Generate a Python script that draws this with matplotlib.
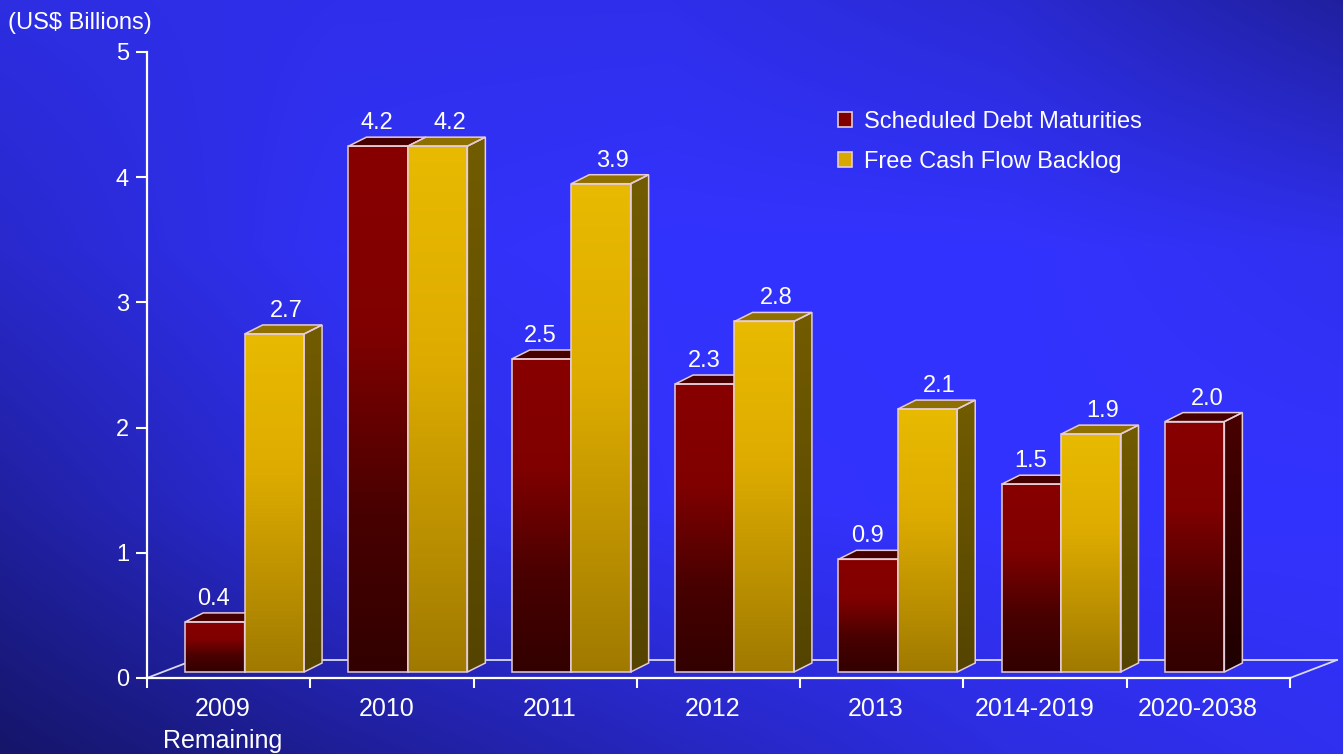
import numpy as np
import matplotlib
matplotlib.use("Agg")
import matplotlib.pyplot as plt
from matplotlib.patches import Polygon, Patch

# ---------------- data ----------------
categories = ["2009\nRemaining", "2010", "2011", "2012", "2013", "2014-2019", "2020-2038"]
debt_maturities = [0.4, 4.2, 2.5, 2.3, 0.9, 1.5, 2.0]
free_cash_flow = [2.7, 4.2, 3.9, 2.8, 2.1, 1.9, None]
series_names = ["Scheduled Debt Maturities", "Free Cash Flow Backlog"]
y_ticks = [0, 1, 2, 3, 4, 5]
y_title = "(US$ Billions)"

# ---------------- style ----------------
plt.rcParams["font.family"] = ["Liberation Sans", "DejaVu Sans"]
W, H = 1343, 754
PXX, PXY = 163.3, 125.2          # pixels per category / per value unit
DXF, DYF = 16 / PXX, 6 / PXY     # bar front-plane offset
DXD, DYD = 18 / PXX, 9 / PXY     # bar depth
FDX, FDY = 47 / PXX, 18 / PXY    # floor depth
BW = 0.364                       # bar width (category units)
EDGE = (0.90, 0.80, 0.84)
FS = 17

RED_FRONT = [(0.0, (136, 0, 0)), (0.35, (128, 0, 0)), (0.7, (72, 0, 0)), (1.0, (50, 0, 0))]
RED_SIDE = [(0.0, (72, 0, 0)), (1.0, (30, 0, 0))]
RED_TOP = (70 / 255, 0, 0)
YEL_FRONT = [(0.0, (232, 186, 0)), (0.4, (222, 172, 0)), (1.0, (160, 122, 0))]
YEL_SIDE = [(0.0, (114, 92, 0)), (1.0, (84, 68, 0))]
YEL_TOP = (142 / 255, 112 / 255, 0)


def gradient(stops, n=256):
    t = np.linspace(0, 1, n)
    pos = [s[0] for s in stops]
    arr = np.zeros((n, 1, 3))
    for c in range(3):
        arr[:, 0, c] = np.interp(t, pos, [s[1][c] / 255 for s in stops])
    return arr


fig = plt.figure(figsize=(W / 100, H / 100), dpi=100)

# background gradient
bg = fig.add_axes([0, 0, 1, 1])
bg.axis("off")
gx = [0, 0.25, 0.5, 0.75, 1.0]
gy = [0, 0.33, 0.67, 1.0]
grid = np.array([
    [226, 235, 235, 212, 158],
    [205, 245, 255, 255, 240],
    [160, 222, 250, 255, 255],
    [105, 150, 190, 225, 240],
], dtype=float)
xs = np.linspace(0, 1, W)
ys = np.linspace(0, 1, H)
rows = np.array([np.interp(xs, gx, grid[r]) for r in range(len(gy))])
full = np.array([np.interp(ys, gy, rows[:, c]) for c in range(W)]).T
img = np.zeros((H, W, 3))
img[..., 2] = full / 255
img[..., 0] = full * 0.2 / 255
img[..., 1] = full * 0.2 / 255
bg.imshow(img, extent=[0, 1, 0, 1], aspect="auto", origin="upper")
bg.set_xlim(0, 1)
bg.set_ylim(0, 1)

ax = fig.add_axes([147 / W, (H - 678) / H, (1290 - 147) / W, (678 - 52) / H])
ax.patch.set_alpha(0)

# floor
n = len(categories)
floor_kw = dict(color=(0.85, 0.85, 0.95), lw=1.3, clip_on=False, zorder=1)
ax.plot([FDX, n + FDX], [FDY, FDY], **floor_kw)
ax.plot([0, FDX], [0, FDY], **floor_kw)
ax.plot([n, n + FDX], [0, FDY], **floor_kw)


def draw_bar(left, h, front, side, top, z, label_dx):
    x0 = left + DXF
    x1 = x0 + BW
    y0 = DYF
    y1 = h + DYF
    ax.imshow(gradient(front), extent=[x0, x1, y0, y1], aspect="auto",
              origin="upper", zorder=z, interpolation="bilinear")
    side_v = [(x1, y0), (x1 + DXD, y0 + DYD), (x1 + DXD, y1 + DYD), (x1, y1)]
    im = ax.imshow(gradient(side), extent=[x1, x1 + DXD, y0, y1 + DYD], aspect="auto",
                   origin="upper", zorder=z, interpolation="bilinear")
    clip = Polygon(side_v, closed=True, transform=ax.transData)
    im.set_clip_path(clip)
    top_v = [(x0, y1), (x1, y1), (x1 + DXD, y1 + DYD), (x0 + DXD, y1 + DYD)]
    ax.add_patch(Polygon(top_v, closed=True, facecolor=top, edgecolor=EDGE, lw=1.1, zorder=z + 0.1))
    ax.add_patch(Polygon(side_v, closed=True, fill=False, edgecolor=EDGE, lw=1.1, zorder=z + 0.1))
    ax.add_patch(Polygon([(x0, y0), (x1, y0), (x1, y1), (x0, y1)], closed=True, fill=False,
                         edgecolor=EDGE, lw=1.1, zorder=z + 0.1))
    ax.text(x0 + BW / 2 + label_dx / PXX, y1 + DYD + 8 / PXY, f"{h:.1f}", ha="center",
            va="baseline", color="white", fontsize=FS, zorder=z + 0.2)


z = 3
for i in range(n):
    has_fcf = free_cash_flow[i] is not None
    draw_bar(i + 0.5 - BW, debt_maturities[i], RED_FRONT, RED_SIDE, RED_TOP, z,
             -1 if has_fcf else 13)
    z += 1
    if has_fcf:
        draw_bar(i + 0.5, free_cash_flow[i], YEL_FRONT, YEL_SIDE, YEL_TOP, z, 12)
        z += 1

ax.set_xlim(0, n)
ax.set_ylim(0, 5)

for s in ["top", "right"]:
    ax.spines[s].set_visible(False)
for s in ["left", "bottom"]:
    ax.spines[s].set_color("white")
    ax.spines[s].set_linewidth(1.6)

ax.set_yticks(y_ticks)
ax.set_yticklabels([str(t) for t in y_ticks])
ax.tick_params(axis="y", direction="out", length=8, width=1.5, color="white",
               labelcolor="white", labelsize=FS, pad=5)
ax.set_xticks(range(n + 1))
ax.set_xticklabels([])
label_pos = [i + 0.465 - 0.006 * max(0, len(c.split("\n")[0]) - 4) for i, c in enumerate(categories)]
ax.set_xticks(label_pos, minor=True)
ax.set_xticklabels(categories, minor=True, linespacing=1.42)
ax.tick_params(axis="x", which="major", direction="out", length=7.5, width=1.5, color="white")
ax.tick_params(axis="x", which="minor", length=0, labelcolor="white", labelsize=18, pad=14)

fig.text(8 / W, 1 - 23 / H, y_title, ha="left", va="center", color="white", fontsize=FS)

handles = [Patch(facecolor=(0.50, 0.0, 0.0), edgecolor=EDGE, lw=1.2),
           Patch(facecolor=(0.85, 0.66, 0.0), edgecolor=EDGE, lw=1.2)]
leg = fig.legend(handles, series_names, loc="upper left", bbox_to_anchor=(838 / W, 1 - 110.5 / H),
                 frameon=False, fontsize=FS, handlelength=0.6, handleheight=0.6,
                 handletextpad=0.5, labelspacing=0.78, borderpad=0, borderaxespad=0)
for t in leg.get_texts():
    t.set_color("white")

fig.savefig("out.png", dpi=100)
